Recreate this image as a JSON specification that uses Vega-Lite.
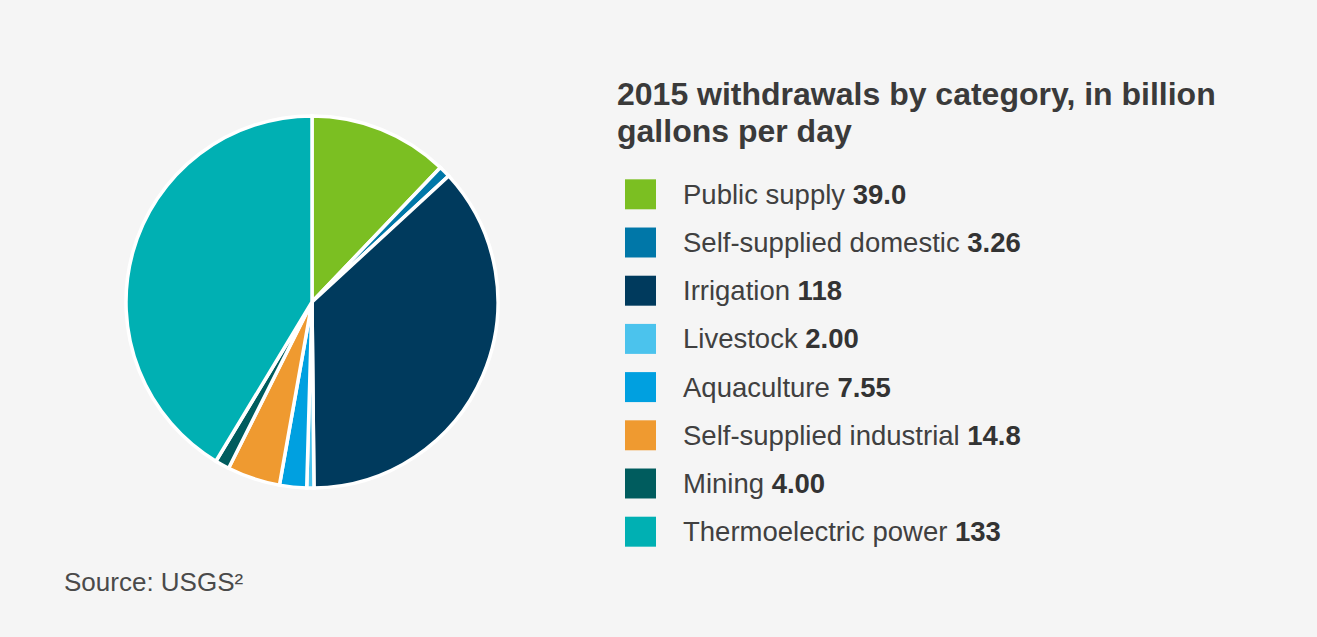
{
  "$schema": "https://vega.github.io/schema/vega-lite/v6.json",
  "background": "#f5f5f5",
  "padding": {"left": 64, "top": 79, "right": 50, "bottom": 67},
  "config": {"view": {"stroke": null}},
  "data": {
    "values": [
      {"idx": 1, "category": "Public supply", "value": 39.0},
      {"idx": 2, "category": "Self-supplied domestic", "value": 3.26},
      {"idx": 3, "category": "Irrigation", "value": 118},
      {"idx": 4, "category": "Livestock", "value": 2.00},
      {"idx": 5, "category": "Aquaculture", "value": 7.55},
      {"idx": 6, "category": "Self-supplied industrial", "value": 14.8},
      {"idx": 7, "category": "Mining", "value": 4.00},
      {"idx": 8, "category": "Thermoelectric power", "value": 133}
    ]
  },
  "spacing": 57,
  "hconcat": [
    {
      "width": 496,
      "height": 282,
      "title": {
        "text": "Source: USGS²",
        "orient": "bottom",
        "anchor": "start",
        "frame": "group",
        "offset": 75,
        "fontSize": 26,
        "font": "Liberation Sans",
        "fontWeight": "normal",
        "color": "#4a4a4a"
      },
      "mark": {"type": "arc", "outerRadius": 186, "stroke": "#ffffff", "strokeWidth": 3.5},
      "encoding": {
        "theta": {"field": "value", "type": "quantitative", "stack": true},
        "order": {"field": "idx", "type": "quantitative"},
        "color": {
          "field": "category",
          "type": "nominal",
          "scale": {
            "domain": ["Public supply", "Self-supplied domestic", "Irrigation", "Livestock", "Aquaculture", "Self-supplied industrial", "Mining", "Thermoelectric power"],
            "range": ["#7bbf22", "#0077a8", "#003a5d", "#4bc3ed", "#00a0e0", "#ef9a30", "#005c5e", "#00b0b3"]
          },
          "legend": null
        }
      }
    },
    {
      "width": 650,
      "height": 404,
      "title": {
        "text": ["2015 withdrawals by category, in billion", "gallons per day"],
        "anchor": "start",
        "frame": "group",
        "offset": 12,
        "fontSize": 32,
        "lineHeight": 37,
        "font": "Liberation Sans",
        "fontWeight": "bold",
        "color": "#3a3a3a"
      },
      "encoding": {
        "y": {
          "field": "category",
          "type": "nominal",
          "sort": null,
          "axis": null,
          "scale": {"paddingInner": 0.378, "paddingOuter": 0.38}
        }
      },
      "layer": [
        {
          "mark": {"type": "rect"},
          "encoding": {
            "x": {"datum": 8, "type": "quantitative", "scale": {"domain": [0, 650], "nice": false, "zero": false}, "axis": null},
            "x2": {"datum": 39},
            "color": {
              "field": "category",
              "type": "nominal",
              "scale": {
                "domain": ["Public supply", "Self-supplied domestic", "Irrigation", "Livestock", "Aquaculture", "Self-supplied industrial", "Mining", "Thermoelectric power"],
                "range": ["#7bbf22", "#0077a8", "#003a5d", "#4bc3ed", "#00a0e0", "#ef9a30", "#005c5e", "#00b0b3"]
              },
              "legend": null
            }
          }
        },
        {
          "mark": {"type": "text", "align": "left", "baseline": "alphabetic", "dy": 9.5, "fontSize": 27.5, "font": "Liberation Sans", "color": "#404040"},
          "encoding": {
            "x": {"datum": 66, "type": "quantitative", "scale": {"domain": [0, 650], "nice": false, "zero": false}, "axis": null},
            "text": {"field": "category", "type": "nominal"}
          }
        },
        {
          "mark": {
            "type": "text",
            "align": "left",
            "baseline": "alphabetic",
            "dy": 9.5,
            "fontSize": 27.5,
            "font": "Liberation Sans",
            "fontWeight": "bold",
            "color": "#333333",
            "dx": {"expr": "27.5*(222*(length(datum.category)-length(replace(datum.category,regexp('[ijl]','g'),'')))+278*(length(datum.category)-length(replace(datum.category,regexp('[ft I]','g'),'')))+333*(length(datum.category)-length(replace(datum.category,regexp('[-r]','g'),'')))+500*(length(datum.category)-length(replace(datum.category,regexp('[cksvxyz]','g'),'')))+556*(length(datum.category)-length(replace(datum.category,regexp('[abdeghnopquL]','g'),'')))+611*(length(datum.category)-length(replace(datum.category,regexp('[T]','g'),'')))+667*(length(datum.category)-length(replace(datum.category,regexp('[PSA]','g'),'')))+722*(length(datum.category)-length(replace(datum.category,regexp('[w]','g'),'')))+833*(length(datum.category)-length(replace(datum.category,regexp('[mM]','g'),'')))+278)/1000"}
          },
          "encoding": {
            "x": {"datum": 66, "type": "quantitative", "scale": {"domain": [0, 650], "nice": false, "zero": false}, "axis": null},
            "text": {"field": "value", "type": "quantitative", "format": ".3r"}
          }
        }
      ]
    }
  ]
}
